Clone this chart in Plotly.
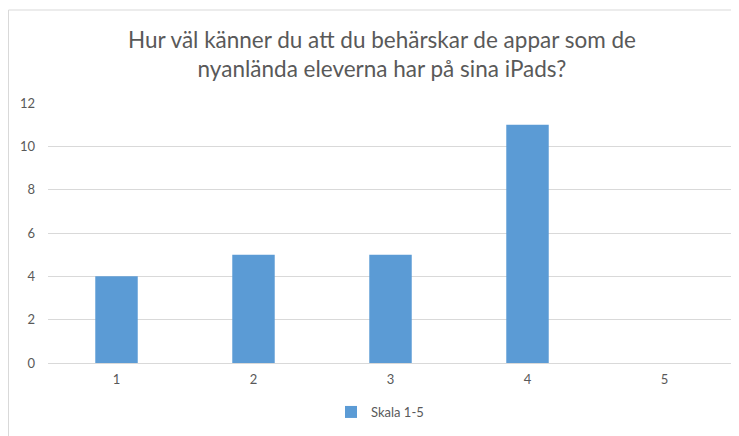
import plotly.graph_objects as go

categories = [1, 2, 3, 4, 5]
values = [4, 5, 5, 11, 0]
series_name = "Skala 1-5"
title_text = "Hur väl känner du att du behärskar de appar som de<br>nyanlända eleverna har på sina iPads?"

# page body adds an 8px offset, so the figure is 8px smaller than the window
W, H = 731, 428
L, R, T, B = 40, 6, 95, 73
pw = W - L - R
ph = H - T - B

font_fam = "Lato, Open Sans, sans-serif"

fig = go.Figure()
fig.add_trace(go.Bar(
    x=categories, y=values, name=series_name,
    marker=dict(color="#5b9bd5", line=dict(width=0)),
    width=0.31, showlegend=True,
))

fig.update_layout(
    width=W, height=H,
    margin=dict(l=L, r=R, t=T, b=B, autoexpand=False),
    paper_bgcolor="white", plot_bgcolor="white",
    title=dict(text=title_text, x=374 / W, xanchor="center", y=1 - 40 / H, yanchor="middle",
               font=dict(family="Lato, sans-serif", size=22.5, color="#595959")),
    font=dict(family=font_fam, size=12, color="#595959"),
    xaxis=dict(range=[0.5, 5.5], tickvals=categories, ticktext=[str(c) for c in categories],
               showgrid=False, zeroline=False, showline=True, linecolor="#d9d9d9", linewidth=1,
               ticks="", automargin=False, ticklabelstandoff=4,
               tickfont=dict(size=13, color="#595959")),
    yaxis=dict(range=[0, 12], dtick=2, showgrid=True, gridcolor="#d9d9d9", gridwidth=1,
               zeroline=False, showline=False, ticks="", ticklabelstandoff=12, automargin=False,
               tickfont=dict(size=13, color="#595959")),
    legend=dict(orientation="h", x=372 / W, xref="container", xanchor="center",
                y=1 - 404 / H, yref="container", yanchor="middle",
                font=dict(size=13, color="#595959"), itemwidth=30),
    bargap=0.69,
    shapes=[dict(type="rect", xref="paper", yref="paper",
                 x0=(0.5 - L) / pw, x1=(W + 5 - L) / pw,
                 y0=(B - H - 5) / ph, y1=1 + (T - 2) / ph,
                 line=dict(color="#d9d9d9", width=1), fillcolor="rgba(0,0,0,0)", layer="below")],
)

fig.write_html("out.html")
